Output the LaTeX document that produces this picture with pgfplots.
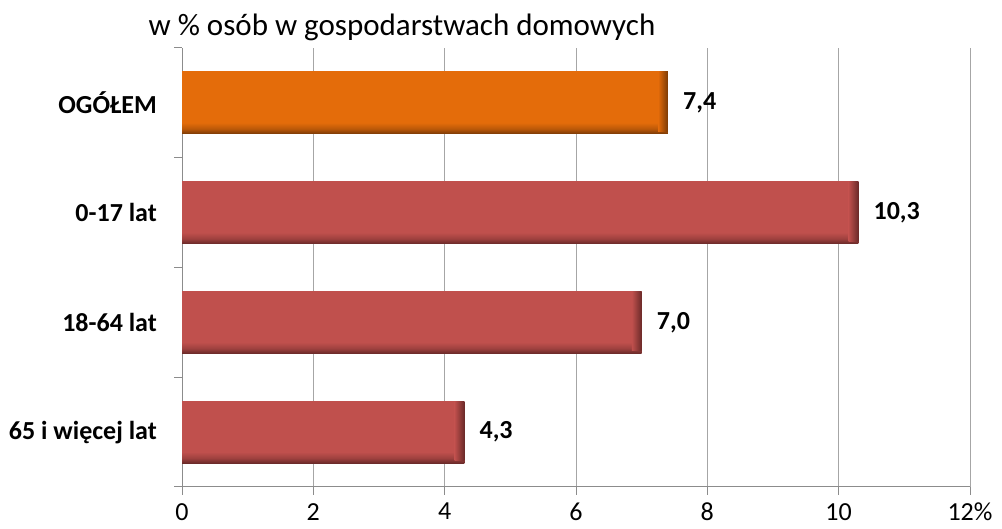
\documentclass[border=0pt]{standalone}
\usepackage{pgfplots}
\pgfplotsset{compat=1.18}
\usepackage{fontspec}
\setmainfont{Carlito}
\definecolor{orangeM}{HTML}{E46C0A}
\definecolor{orangeD}{HTML}{7A3A06}
\definecolor{redM}{HTML}{C0504D}
\definecolor{redD}{HTML}{6B2A29}
\definecolor{gridc}{HTML}{A6A6A6}
\definecolor{axisc}{HTML}{8C8C8C}
\pgfdeclareverticalshading{orangebar}{100bp}{color(0bp)=(orangeD); color(25bp)=(orangeD); color(29bp)=(orangeM!60!orangeD); color(34bp)=(orangeM); color(100bp)=(orangeM)}
\pgfdeclareverticalshading{redbar}{100bp}{color(0bp)=(redD); color(25bp)=(redD); color(29bp)=(redM!60!redD); color(34bp)=(redM); color(100bp)=(redM)}
\pgfdeclarehorizontalshading{orangeedge}{100bp}{color(0bp)=(orangeM); color(25bp)=(orangeM); color(75bp)=(orangeD); color(100bp)=(orangeD)}
\pgfdeclarehorizontalshading{rededge}{100bp}{color(0bp)=(redM); color(25bp)=(redM); color(75bp)=(redD); color(100bp)=(redD)}
\begin{document}
\begin{tikzpicture}[x=1pt,y=1pt]
\useasboundingbox (0,0) rectangle (1002,529);
\node[anchor=center,inner sep=0pt,font=\fontsize{31}{32}\selectfont] at (402,502) {w \% osób w gospodarstwach domowych};
\begin{axis}[
  at={(182pt,42pt)}, anchor=south west, scale only axis,
  width=788pt, height=439pt,
  xmin=0, xmax=12, ymin=-0.5, ymax=3.5,
  axis x line*=bottom, axis y line*=left,
  axis line style={draw=axisc, line width=1pt},
  xtick={0,2,4,6,8,10,12},
  xticklabels={0,2,4,6,8,10,12\%},
  xmajorgrids, major grid style={draw=gridc, line width=1pt},
  tick align=outside, major tick length=8pt,
  tick style={draw=axisc, line width=1pt},
  xticklabel style={font=\fontsize{26}{26}\selectfont, anchor=north, inner sep=0pt, yshift=-8pt},
  ytick={-0.5,0.5,1.5,2.5,3.5},
  yticklabels={},
  extra y ticks={0,1,2,3},
  extra y tick labels={65 i więcej lat,18-64 lat,0-17 lat,OGÓŁEM},
  extra y tick style={tick style={draw=none}, yticklabel style={font=\bfseries\fontsize{26}{26}\selectfont, anchor=east, inner sep=0pt, xshift=-17pt}},
  clip=false,
  /pgf/number format/assume math mode=true,
  nodes near coords={\pgfmathprintnumber[fixed,fixed zerofill,precision=1,use comma,assume math mode=true]{\pgfplotspointmeta}},
  every node near coord/.append style={font=\bfseries\fontsize{26}{26}\selectfont, anchor=west, inner sep=0pt, xshift=15pt, black},
]
\addplot[xbar, bar width=62pt, bar shift=0pt, draw=none, shading=orangebar, point meta=x] coordinates {(7.4,3)};
\addplot[xbar, bar width=62pt, bar shift=0pt, draw=none, shading=redbar, point meta=x] coordinates {(10.3,2)};
\addplot[xbar, bar width=62pt, bar shift=0pt, draw=none, shading=redbar, point meta=x] coordinates {(7.0,1)};
\addplot[xbar, bar width=62pt, bar shift=0pt, draw=none, shading=redbar, point meta=x] coordinates {(4.3,0)};
\addplot[draw=none, no markers, shading=orangeedge, forget plot, nodes near coords={}] coordinates {(7.25,2.74) (7.4,2.74) (7.4,3.2818) (7.25,3.2818)} -- cycle;
\addplot[draw=none, no markers, shading=rededge, forget plot, nodes near coords={}] coordinates {(10.15,1.74) (10.3,1.74) (10.3,2.2818) (10.15,2.2818)} -- cycle;
\addplot[draw=none, no markers, shading=rededge, forget plot, nodes near coords={}] coordinates {(6.85,0.74) (7.0,0.74) (7.0,1.2818) (6.85,1.2818)} -- cycle;
\addplot[draw=none, no markers, shading=rededge, forget plot, nodes near coords={}] coordinates {(4.15,-0.26) (4.3,-0.26) (4.3,0.2818) (4.15,0.2818)} -- cycle;
\end{axis}
\end{tikzpicture}
\end{document}
